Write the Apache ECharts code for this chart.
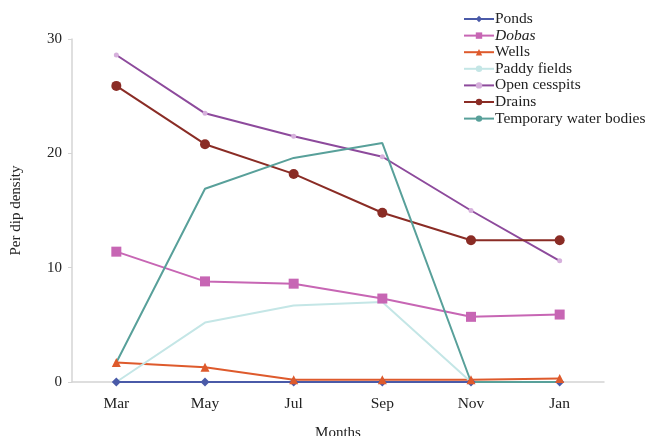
<!DOCTYPE html>
<html>
<head>
<meta charset="utf-8">
<script src="https://cdn.jsdelivr.net/npm/echarts@6/dist/echarts.min.js"></script>
<style>
  html, body { margin: 0; padding: 0; background: #fff; }
  #chart { width: 647px; height: 436px; }
</style>
</head>
<body>
<div id="chart"></div>
<script>
const months = ["Mar", "May", "Jul", "Sep", "Nov", "Jan"];

const ponds = [0, 0, 0, 0, 0, 0];
const dobas = [11.4, 8.8, 8.6, 7.3, 5.7, 5.9];
const wells = [1.7, 1.3, 0.2, 0.2, 0.2, 0.3];
const paddyFields = [0, 5.2, 6.7, 7.0, 0, 0];
const openCesspits = [28.6, 23.5, 21.5, 19.7, 15.0, 10.6];
const drains = [25.9, 20.8, 18.2, 14.8, 12.4, 12.4];
const tempWater = [1.7, 16.9, 19.6, 20.9, 0, 0];

const yTicks = [0, 10, 20, 30];

const FONT = "Liberation Serif";
const ink = "#222";
const axisGray = "#d4d4d4";

const chart = echarts.init(document.getElementById("chart"), null, { renderer: "canvas" });

function line(name, data, color, symbol, size, extra) {
  return Object.assign({
    name,
    type: "line",
    data,
    symbol,
    symbolSize: size,
    showSymbol: symbol !== "none",
    lineStyle: { color, width: 2 },
    itemStyle: { color },
    emphasis: { disabled: true },
    z: 2
  }, extra || {});
}

chart.setOption({
  animation: false,
  textStyle: { fontFamily: FONT },
  grid: { left: 72, right: 43, top: 39, bottom: 54, outerBoundsMode: "none" },
  legend: {
    orient: "vertical",
    left: 463,
    top: 11,
    padding: 0,
    itemWidth: 30,
    itemHeight: 8,
    itemGap: 0.6,
    align: "left",
    textStyle: {
      fontFamily: FONT,
      fontSize: 15.5,
      color: ink,
      lineHeight: 14,
      padding: [0, 0, 0, -4],
      rich: { it: { fontStyle: "italic", fontFamily: FONT, fontSize: 15.5, color: ink, lineHeight: 14 } }
    },
    formatter: (n) => (n === "Dobas" ? "{it|Dobas}" : n),
    data: ["Ponds", "Dobas", "Wells", "Paddy fields", "Open cesspits", "Drains", "Temporary water bodies"]
  },
  xAxis: {
    type: "category",
    data: months,
    boundaryGap: true,
    name: "Months",
    nameLocation: "middle",
    nameGap: 44,
    nameTextStyle: { fontFamily: FONT, fontSize: 15, color: ink },
    axisLine: { lineStyle: { color: axisGray, width: 1.5 } },
    axisTick: { show: false },
    axisLabel: { fontFamily: FONT, fontSize: 15.5, color: ink, margin: 14 },
    splitLine: { show: false }
  },
  yAxis: {
    type: "value",
    min: yTicks[0],
    max: yTicks[yTicks.length - 1],
    interval: 10,
    name: "Per dip density",
    nameLocation: "middle",
    nameGap: 48,
    nameTextStyle: { fontFamily: FONT, fontSize: 15, color: ink },
    axisLine: { show: true, lineStyle: { color: axisGray, width: 1.5 } },
    axisTick: { show: true, length: 4, lineStyle: { color: axisGray } },
    axisLabel: { fontFamily: FONT, fontSize: 15, color: ink, margin: 10 },
    splitLine: { show: false }
  },
  series: [
    line("Ponds", ponds, "#4a5aa8", "diamond", 9),
    line("Dobas", dobas, "#c766b4", "rect", 10),
    line("Wells", wells, "#de5a2c", "triangle", 9),
    line("Paddy fields", paddyFields, "#c4e6e6", "none", 0),
    line("Open cesspits", openCesspits, "#8d4a9c", "circle", 5, { itemStyle: { color: "#d6b0dc" } }),
    line("Drains", drains, "#8a2c25", "circle", 10),
    line("Temporary water bodies", tempWater, "#58a09a", "none", 0)
  ]
});
</script>
</body>
</html>
